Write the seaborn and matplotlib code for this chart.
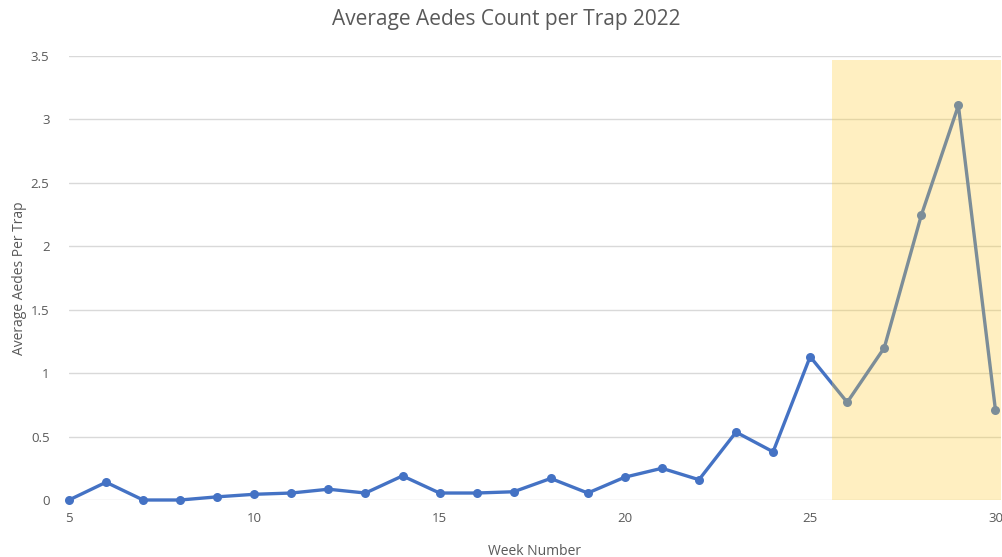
import pandas as pd
import matplotlib
matplotlib.use("Agg")
import matplotlib.pyplot as plt
import seaborn as sns

# weekly averages
weeks = list(range(5, 31))
avg_aedes = [0.0, 0.14, 0.0, 0.0, 0.025, 0.045, 0.055, 0.085, 0.055, 0.19,
             0.055, 0.055, 0.065, 0.17, 0.055, 0.18, 0.25, 0.16, 0.535, 0.38,
             1.13, 0.77, 1.2, 2.245, 3.11, 0.71]
highlight_start = 25.58
highlight_end = 30.15

df = pd.DataFrame({"week": weeks, "avg": avg_aedes})

sns.set_style("white")
plt.rcParams['font.family'] = ['Open Sans', 'DejaVu Sans']

fig = plt.figure(figsize=(10.02, 5.57), dpi=100)
ax = fig.add_axes([69 / 1002, 1 - 500 / 557, (1001 - 69) / 1002, 444 / 557])

sns.lineplot(data=df, x="week", y="avg", color="#4472C4", linewidth=2.4,
             marker="o", markersize=6.5, markeredgewidth=0, ax=ax, zorder=2,
             clip_on=False)

# highlighted weeks (semi-transparent overlay)
ax.axvspan(highlight_start, highlight_end, ymin=0, ymax=3.47 / 3.5,
           color="#FFCC33", alpha=0.3, linewidth=0, zorder=3)

ax.set_xlim(5, 30.15)
ax.set_ylim(0, 3.5)
ax.set_xticks([5, 10, 15, 20, 25, 30])
ax.set_yticks([0, 0.5, 1, 1.5, 2, 2.5, 3, 3.5])
ax.set_yticklabels(["0", "0.5", "1", "1.5", "2", "2.5", "3", "3.5"])
ax.yaxis.grid(True, color="#D9D9D9", linewidth=1)
ax.set_axisbelow(True)
for s in ax.spines.values():
    s.set_visible(False)
ax.tick_params(axis="both", length=0, labelsize=9.5, colors="#595959")
ax.tick_params(axis="x", pad=9)
ax.tick_params(axis="y", pad=14)

ax.set_xlabel("Week Number", fontsize=10, color="#595959", labelpad=13)
ax.set_ylabel("Average Aedes Per Trap", fontsize=10, color="#595959", labelpad=3)
fig.text(0.505, 1 - 20 / 557, "Average Aedes Count per Trap 2022",
         ha="center", va="center", fontsize=15, color="#595959")

fig.savefig("out.png", dpi=100)
